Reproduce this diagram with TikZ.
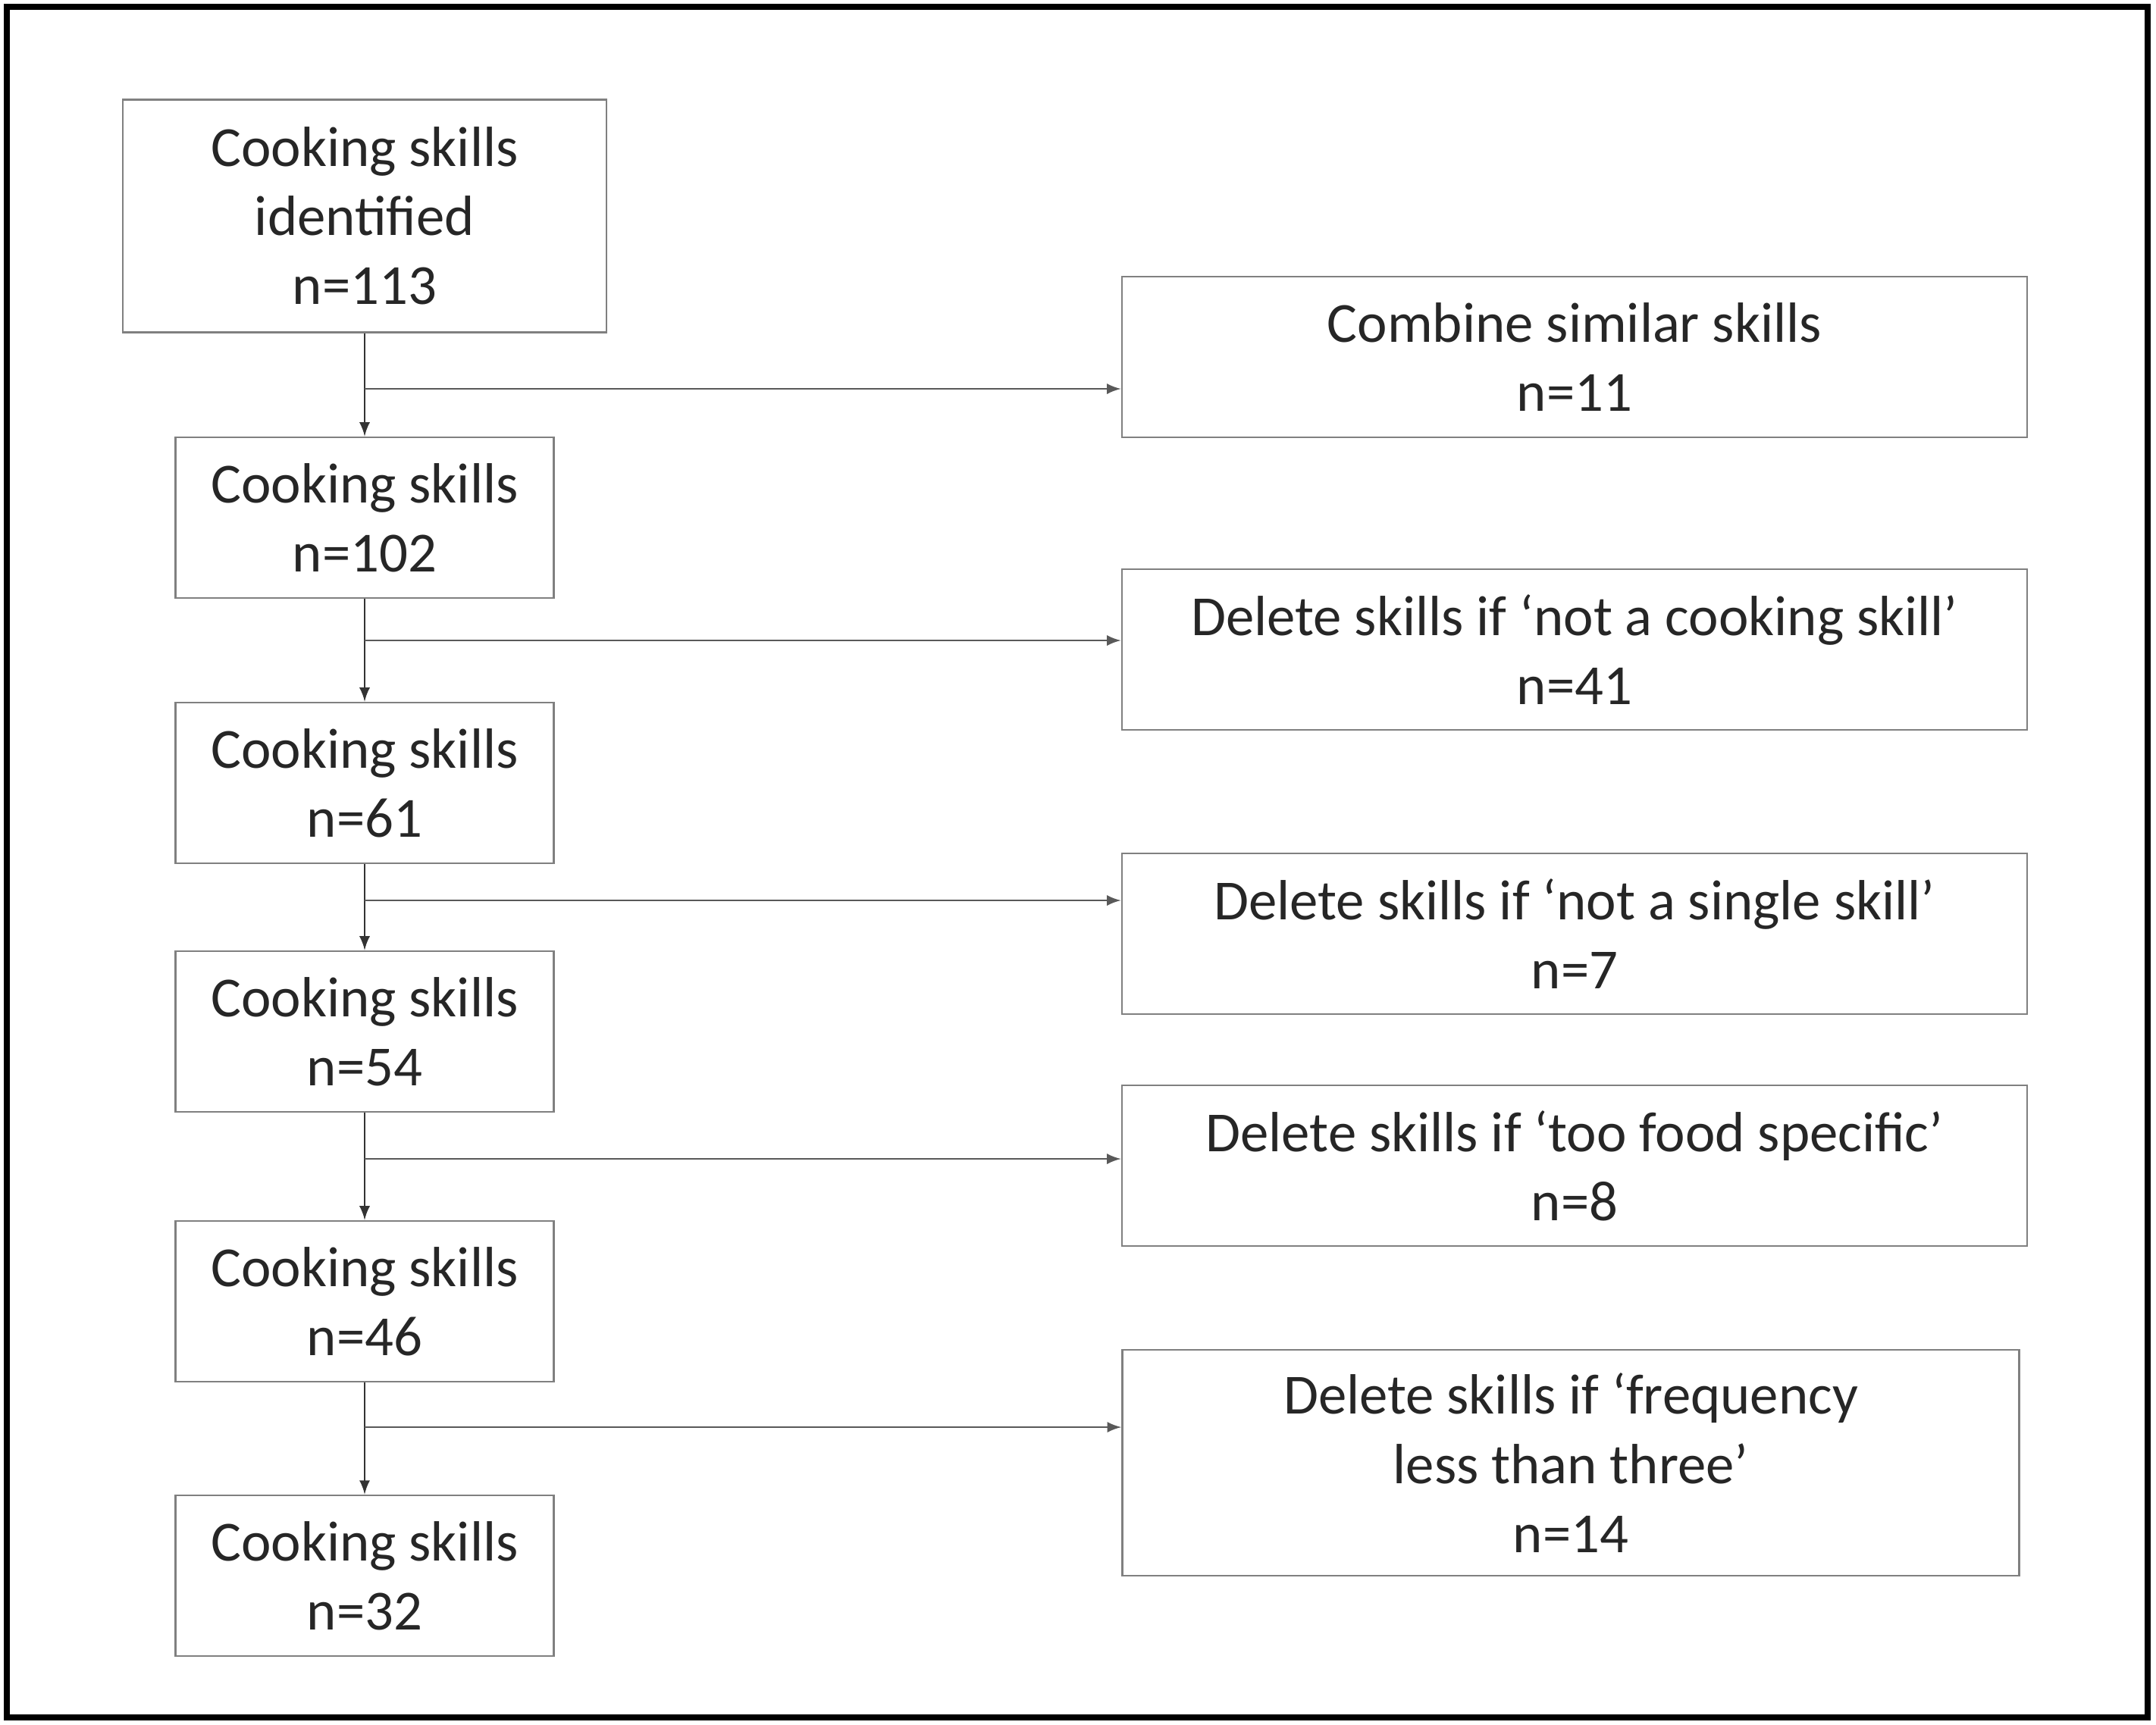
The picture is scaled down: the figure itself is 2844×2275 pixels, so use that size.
\documentclass[tikz,border=0pt]{standalone}
\usepackage{fontspec}
\setmainfont{Carlito}
\usetikzlibrary{calc}
\tikzstyle{flow}=[
  >=latex, x=0.25pt, y=-0.25pt, font=\fontsize{18.7}{22.8}\selectfont
]
\tikzstyle{skillbox}=[
  draw=black!50, line width=0.7pt, align=center, inner sep=0pt,
  text=black!85, minimum width=124.75pt, minimum height=53pt
]
\tikzstyle{rulebox}=[
  skillbox, minimum width=298.5pt
]
\tikzstyle{trunk}=[
  draw=black!80, line width=0.6pt
]
\tikzstyle{branch}=[
  draw=black!65, line width=0.6pt
]

\begin{document}
\begin{tikzpicture}[flow]
    \useasboundingbox (0,0) rectangle (2844,2275);
    \draw [line width=2pt] (9,9) rectangle (2833,2266);
    % left column
    \node (c1) at (481,285) [skillbox, minimum width=159.5pt, minimum height=76.75pt] {Cooking skills\\identified\\n=113};
    \node (c2) at (481,683) [skillbox] {Cooking skills\\n=102};
    \node (c3) at (481,1033) [skillbox] {Cooking skills\\n=61};
    \node (c4) at (481,1361) [skillbox] {Cooking skills\\n=54};
    \node (c5) at (481,1717) [skillbox] {Cooking skills\\n=46};
    \node (c6) at (481,2079) [skillbox] {Cooking skills\\n=32};
    % right column
    \node (r1) at (2077,471) [rulebox] {Combine similar skills\\n=11};
    \node (r2) at (2077,857) [rulebox] {Delete skills if ‘not a cooking skill’\\n=41};
    \node (r3) at (2077,1232) [rulebox] {Delete skills if ‘not a single skill’\\n=7};
    \node (r4) at (2077,1538) [rulebox] {Delete skills if ‘too food specific’\\n=8};
    \node (r5) at (2072,1930) [rulebox, minimum width=295.75pt, minimum height=74.5pt] {Delete skills if ‘frequency\\less than three’\\n=14};
    \coordinate (j1) at (481,513);
    \coordinate (j2) at (481,845);
    \coordinate (j3) at (481,1188);
    \coordinate (j4) at (481,1529);
    \coordinate (j5) at (481,1883);
    \draw [trunk,->] (c1) -- (c2);
    \draw [trunk,->] (c2) -- (c3);
    \draw [trunk,->] (c3) -- (c4);
    \draw [trunk,->] (c4) -- (c5);
    \draw [trunk,->] (c5) -- (c6);
    \draw [branch,->] (j1) -- (j1 -| r1.west);
    \draw [branch,->] (j2) -- (j2 -| r2.west);
    \draw [branch,->] (j3) -- (j3 -| r3.west);
    \draw [branch,->] (j4) -- (j4 -| r4.west);
    \draw [branch,->] (j5) -- (j5 -| r5.west);
\end{tikzpicture}
\end{document}
